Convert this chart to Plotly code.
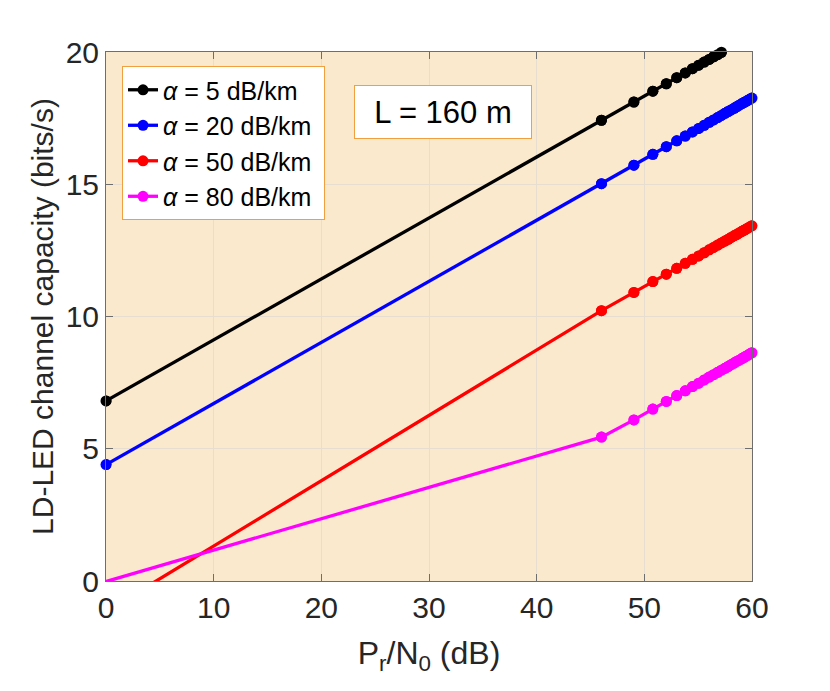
import pandas as pd
import plotly.graph_objects as go

# P_r/N_0 in dB (same grid for every curve)
pr_n0 = [0, 46.02, 49.03, 50.79, 52.04, 53.01, 53.80, 54.47, 55.05, 55.56, 56.02, 56.43, 56.81,
         57.16, 57.48, 57.78, 58.06, 58.33, 58.57, 58.81, 59.03, 59.24, 59.44, 59.63, 59.82, 60.00]

cap_5 = [6.81, 17.42, 18.11, 18.52, 18.80, 19.03, 19.21, 19.37, 19.50, 19.62, 19.72, 19.82, 19.90,
         19.99, 20.06, 20.13, 20.19, 20.25, 20.31, 20.37, 20.42, 20.46, 20.51, 20.55, 20.60, 20.64]
cap_20 = [4.40, 15.02, 15.72, 16.13, 16.42, 16.64, 16.82, 16.98, 17.11, 17.23, 17.34, 17.43, 17.52,
          17.60, 17.68, 17.75, 17.81, 17.87, 17.93, 17.99, 18.04, 18.09, 18.13, 18.18, 18.22, 18.26]
cap_50 = [-1.15, 10.22, 10.91, 11.32, 11.60, 11.82, 12.01, 12.16, 12.29, 12.41, 12.52, 12.61, 12.70,
          12.78, 12.85, 12.92, 12.99, 13.05, 13.10, 13.16, 13.21, 13.26, 13.30, 13.35, 13.39, 13.43]
cap_80 = [-0.02, 5.44, 6.09, 6.50, 6.79, 7.01, 7.19, 7.35, 7.48, 7.60, 7.71, 7.80, 7.89,
          7.97, 8.04, 8.11, 8.18, 8.24, 8.30, 8.35, 8.40, 8.45, 8.50, 8.54, 8.59, 8.63]

series = [
    ("<i>α</i> = 5 dB/km", cap_5, "#000000"),
    ("<i>α</i> = 20 dB/km", cap_20, "#0000ff"),
    ("<i>α</i> = 50 dB/km", cap_50, "#ff0000"),
    ("<i>α</i> = 80 dB/km", cap_80, "#ff00ff"),
]

font = "Liberation Sans, Arial, sans-serif"
fig = go.Figure()

for name, vals, col in series:
    df = pd.DataFrame({"x": pr_n0, "y": vals})
    fig.add_trace(go.Scatter(x=df["x"], y=df["y"], mode="lines+markers", name=name + " ",
                             line=dict(color=col, width=3.3),
                             marker=dict(color=col, size=11)))
    # markers inside the axes limits, drawn unclipped like matlab does
    inside = df[(df["y"] >= 0) & (df["y"] <= 20)]
    fig.add_trace(go.Scatter(x=inside["x"], y=inside["y"], mode="markers", showlegend=False,
                             marker=dict(color=col, size=11), cliponaxis=False,
                             hoverinfo="skip"))

fig.add_annotation(x=0.5217, y=0.8875, xref="paper", yref="paper", text="L = 160 m",
                   showarrow=False, font=dict(family=font, size=31, color="black"),
                   bgcolor="white", bordercolor="#f0a040", borderwidth=1,
                   borderpad=1, width=174, height=50,
                   xanchor="center", yanchor="middle")

axis_common = dict(showline=True, linecolor="#6e6e6e", linewidth=1, mirror="ticks",
                   ticks="inside", ticklen=7, tickcolor="#6e6e6e",
                   showgrid=True, gridcolor="#e6ded0", gridwidth=1, zeroline=False,
                   tickfont=dict(family=font, size=30, color="#262626"))

fig.update_xaxes(range=[0, 60], dtick=10,
                 title=dict(text="P<sub>r</sub>/N<sub>0</sub> (dB)", standoff=18,
                            font=dict(family=font, size=32, color="#262626")),
                 **axis_common)
fig.update_yaxes(range=[0, 20], dtick=5,
                 title=dict(text="LD-LED channel capacity (bits/s)", standoff=3,
                            font=dict(family=font, size=30, color="#262626")),
                 **axis_common)

fig.update_layout(
    width=830, height=691,
    margin=dict(l=98, r=86, t=44, b=118),
    plot_bgcolor="rgb(251,233,205)",
    paper_bgcolor="white",
    showlegend=True,
    legend=dict(x=0.0248, y=0.9735, xanchor="left", yanchor="top",
                bgcolor="white", bordercolor="#f0a040", borderwidth=1,
                font=dict(family=font, size=25, color="black"),
                itemwidth=30, tracegroupgap=0),
)

fig.write_html("out.html")
